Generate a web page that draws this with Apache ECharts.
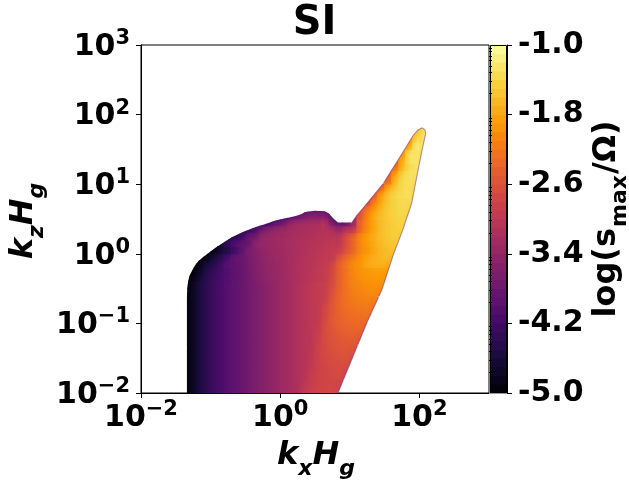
<!DOCTYPE html>
<html>
<head>
<meta charset="utf-8">
<script src="https://cdn.jsdelivr.net/npm/echarts@6/dist/echarts.min.js"></script>
<style>
  html, body { margin: 0; padding: 0; background: #fff; }
  #chart { width: 629px; height: 483px; }
</style>
</head>
<body>
<div id="chart"></div>
<script>
const _ = null;
const gap = n => Array(n).fill(null);

// cell edges in log10(k_x H_g) and log10(k_z H_g)
const logKxEdges = [-1.4,-1.3,-1.2,-1.1,-1.0,-0.9,-0.8,-0.7,-0.6,-0.5,-0.4,-0.3,-0.2,-0.1,0.0,
  0.1,0.2,0.3,0.4,0.5,0.6,0.7,0.8,0.9,1.0,1.1,1.2,1.3,1.4,1.5,1.6,1.7,1.8,1.9,2.0,2.1];
const logKzEdges = [-2.0,-1.9,-1.8,-1.7,-1.6,-1.5,-1.4,-1.3,-1.2,-1.1,-1.0,-0.9,-0.8,-0.7,-0.6,
  -0.5,-0.4,-0.3,-0.2,-0.1,0.0,0.1,0.2,0.3,0.4,0.5,0.6,0.7,0.8,0.9,1.0,1.1,1.2,1.3,1.4,1.5,1.6,1.7,1.8,1.9];

// log(s_max / Omega), one row per k_z band (bottom row first), one entry per k_x band
const logGrowthRows = [
  [-4.97,-4.78,-4.55,-4.38,-4.24,-4.12,-4.0,-3.92,-3.83,-3.73,-3.63,-3.54,-3.45,-3.37,-3.29,-3.21,-3.12,-2.96,-2.86,-2.80,-2.76,-2.75,-2.80],
  [-4.97,-4.78,-4.55,-4.38,-4.24,-4.12,-4.0,-3.92,-3.83,-3.73,-3.63,-3.54,-3.45,-3.37,-3.29,-3.21,-3.13,-3.01,-2.89,-2.81,-2.77,-2.75,-2.77],
  [-4.97,-4.78,-4.55,-4.38,-4.24,-4.12,-4.0,-3.92,-3.83,-3.73,-3.63,-3.54,-3.45,-3.37,-3.29,-3.21,-3.13,-3.05,-2.91,-2.81,-2.76,-2.73,-2.72,-2.80],
  [-4.97,-4.78,-4.55,-4.38,-4.24,-4.12,-4.0,-3.92,-3.83,-3.73,-3.63,-3.54,-3.45,-3.37,-3.29,-3.21,-3.13,-3.06,-2.94,-2.83,-2.76,-2.72,-2.70,-2.73],
  [-4.97,-4.78,-4.55,-4.38,-4.24,-4.12,-4.0,-3.92,-3.83,-3.73,-3.63,-3.54,-3.45,-3.37,-3.29,-3.21,-3.13,-3.06,-2.96,-2.82,-2.74,-2.69,-2.67,-2.66,-2.74],
  [-4.97,-4.78,-4.55,-4.38,-4.24,-4.12,-4.0,-3.92,-3.83,-3.73,-3.63,-3.54,-3.45,-3.37,-3.29,-3.21,-3.13,-3.06,-2.98,-2.82,-2.72,-2.66,-2.62,-2.61,-2.65],
  [-4.97,-4.78,-4.55,-4.38,-4.24,-4.12,-4.0,-3.92,-3.83,-3.73,-3.63,-3.54,-3.45,-3.37,-3.29,-3.21,-3.13,-3.06,-2.99,-2.83,-2.71,-2.63,-2.58,-2.56,-2.59],
  [-4.97,-4.78,-4.55,-4.38,-4.24,-4.12,-4.0,-3.92,-3.83,-3.73,-3.63,-3.54,-3.45,-3.37,-3.29,-3.21,-3.13,-3.06,-2.99,-2.84,-2.70,-2.60,-2.55,-2.52,-2.51,-2.59],
  [-4.97,-4.78,-4.55,-4.38,-4.24,-4.12,-4.0,-3.92,-3.83,-3.73,-3.63,-3.54,-3.45,-3.37,-3.29,-3.21,-3.13,-3.06,-2.99,-2.86,-2.69,-2.58,-2.51,-2.47,-2.45,-2.48],
  [-4.97,-4.78,-4.55,-4.38,-4.24,-4.12,-4.0,-3.92,-3.83,-3.73,-3.63,-3.54,-3.45,-3.37,-3.29,-3.21,-3.13,-3.06,-2.99,-2.89,-2.69,-2.56,-2.47,-2.41,-2.39,-2.38,-2.46],
  [-4.97,-4.78,-4.55,-4.38,-4.24,-4.12,-4.0,-3.92,-3.83,-3.73,-3.63,-3.54,-3.45,-3.37,-3.29,-3.21,-3.13,-3.06,-2.99,-2.92,-2.70,-2.54,-2.43,-2.36,-2.33,-2.31,-2.34],
  [-4.97,-4.78,-4.55,-4.38,-4.24,-4.12,-4.0,-3.92,-3.83,-3.73,-3.63,-3.54,-3.45,-3.37,-3.29,-3.21,-3.13,-3.06,-2.99,-2.92,-2.74,-2.55,-2.41,-2.33,-2.28,-2.26,-2.25,-2.33],
  [-4.97,-4.78,-4.55,-4.38,-4.24,-4.12,-4.0,-3.92,-3.83,-3.73,-3.63,-3.54,-3.45,-3.37,-3.29,-3.21,-3.13,-3.06,-2.99,-2.92,-2.76,-2.55,-2.39,-2.29,-2.23,-2.19,-2.18,-2.22],
  [-4.97,-4.78,-4.55,-4.38,-4.24,-4.12,-4.0,-3.92,-3.83,-3.73,-3.63,-3.54,-3.45,-3.37,-3.29,-3.21,-3.13,-3.06,-2.99,-2.92,-2.83,-2.58,-2.39,-2.27,-2.18,-2.14,-2.12,-2.13],
  [-4.97,-4.78,-4.55,-4.38,-4.24,-4.12,-4.0,-3.92,-3.83,-3.73,-3.63,-3.54,-3.45,-3.37,-3.29,-3.21,-3.13,-3.06,-2.99,-2.92,-2.85,-2.62,-2.41,-2.25,-2.15,-2.09,-2.05,-2.04,-2.08],
  [-4.97,-4.78,-4.55,-4.38,-4.24,-4.12,-4.0,-3.92,-3.83,-3.73,-3.63,-3.54,-3.45,-3.37,-3.29,-3.21,-3.13,-3.06,-2.99,-2.92,-2.85,-2.67,-2.43,-2.25,-2.12,-2.05,-2.0,-1.98,-2.0],
  [-4.98,-4.86,-4.62,-4.42,-4.27,-4.14,-4.02,-3.93,-3.83,-3.73,-3.6,-3.51,-3.42,-3.35,-3.28,-3.21,-3.15,-3.08,-3.02,-2.96,-2.90,-2.70,-2.43,-2.23,-2.10,-2.01,-1.95,-1.93,-1.92,-2.0],
  [-4.99,-4.95,-4.74,-4.5,-4.31,-4.16,-4.03,-3.92,-3.83,-3.71,-3.59,-3.49,-3.41,-3.34,-3.28,-3.21,-3.14,-3.08,-3.02,-2.96,-2.90,-2.73,-2.44,-2.23,-2.07,-1.97,-1.91,-1.87,-1.86,-1.90],
  [_,-4.98,-4.83,-4.62,-4.45,-4.22,-4.0,-3.92,-3.83,-3.70,-3.58,-3.47,-3.40,-3.34,-3.27,-3.21,-3.14,-3.09,-3.03,-2.98,-2.92,-2.77,-2.46,-2.23,-2.05,-1.94,-1.80,-1.74,-1.72,-1.76],
  [_,_,-4.95,-4.85,-4.62,-4.40,-4.15,-3.92,-3.83,-3.69,-3.56,-3.44,-3.38,-3.32,-3.27,-3.21,-3.15,-3.10,-3.05,-3.0,-2.95,-2.9,-2.62,-2.37,-2.18,-1.98,-1.84,-1.74,-1.68,-1.64,-1.70],
  [_,_,_,-4.95,-4.85,-4.63,-4.42,-4.16,-3.93,-3.67,-3.54,-3.42,-3.36,-3.31,-3.26,-3.21,-3.16,-3.11,-3.07,-3.02,-2.98,-2.94,-2.85,-2.6,-2.36,-2.08,-1.92,-1.78,-1.67,-1.60,-1.58],
  [_,_,_,_,-4.95,-4.6,-4.35,-4.1,-3.95,-3.8,-3.52,-3.4,-3.34,-3.29,-3.25,-3.21,-3.16,-3.12,-3.08,-3.05,-3.01,-2.97,-2.95,-2.66,-2.38,-2.08,-1.9,-1.76,-1.64,-1.56,-1.52],
  [...gap(6),-4.5,-4.4,-4.2,-3.9,-3.73,-3.45,-3.38,-3.32,-3.28,-3.23,-3.18,-3.15,-3.12,-3.08,-3.05,-3.05,-3.02,-2.74,-2.45,-2.1,-1.9,-1.74,-1.61,-1.53,-1.48,-1.50],
  [...gap(8),-4.4,-4.25,-4.05,-3.75,-3.58,-3.45,-3.37,-3.28,-3.22,-3.19,-3.16,-3.13,-3.11,-3.22,-3.35,-3.12,-2.93,-2.35,-2.02,-1.8,-1.62,-1.52,-1.46,-1.45],
  [...gap(10),-4.35,-4.25,-4.15,-3.91,-3.76,-3.49,-3.36,-3.3,-3.25,-3.24,-3.22,-3.67,-3.85,-3.8,-3.3,-2.4,-2.05,-1.8,-1.62,-1.52,-1.45,-1.42,-1.48],
  [...gap(14),-4.2,-4.05,-3.85,-3.7,-3.6,-3.6,-3.65,-4.0,_,_,-3.2,-2.55,-2.12,-1.8,-1.62,-1.5,-1.43,-1.4,-1.45],
  [...gap(16),-4.0,-3.95,-3.95,-3.95,-4.0,_,_,_,_,-2.65,-2.3,-1.95,-1.68,-1.52,-1.43,-1.38,-1.4],
  [...gap(26),-2.8,-2.2,-1.8,-1.55,-1.43,-1.37,-1.37],
  [...gap(27),-2.5,-1.95,-1.6,-1.42,-1.35,-1.33,-1.45],
  [...gap(28),-2.4,-1.85,-1.55,-1.38,-1.33,-1.4],
  [...gap(29),-2.3,-1.7,-1.4,-1.32,-1.33],
  [...gap(29),-2.5,-1.9,-1.5,-1.32,-1.3],
  [...gap(30),-2.3,-1.7,-1.38,-1.28],
  [...gap(30),-2.5,-1.8,-1.35,-1.26,-1.35],
  [...gap(31),-2.0,-1.42,-1.27,-1.32],
  [...gap(32),-1.8,-1.28,-1.28],
  [...gap(32),-2.0,-1.45,-1.3],
  [...gap(33),-1.6,-1.33],
  [...gap(34),-1.4]
];

// edge of the unstable region, log10(k_x H_g) / log10(k_z H_g)
const domainLogKx = [-1.34,-1.34,-1.335,-1.32,-1.30,-1.26,-1.22,-1.17,-1.11,-1.03,-0.94,-0.82,-0.69,-0.52,-0.36,-0.20,-0.07,0.08,0.21,0.30,0.36,0.50,0.64,0.70,0.77,0.83,1.03,1.10,1.25,1.48,1.72,1.91,1.98,2.04,2.08,2.09,2.03,1.98,1.89,1.76,1.63,1.46,1.25,0.83];
const domainLogKz = [-2.0,-0.62,-0.48,-0.38,-0.31,-0.23,-0.16,-0.10,-0.05,0.01,0.08,0.16,0.24,0.32,0.38,0.43,0.48,0.51,0.54,0.57,0.60,0.62,0.61,0.58,0.50,0.45,0.45,0.55,0.73,1.01,1.39,1.70,1.78,1.81,1.78,1.73,1.45,1.20,0.73,0.34,0.0,-0.52,-0.98,-2.0];

const logKxTicks = [-2, 0, 2];
const logKzTicks = [-2, -1, 0, 1, 2, 3];
const colorbarTicks = [-5.0, -4.2, -3.4, -2.6, -1.8, -1.0];
const colorMin = -5, colorMax = -1, colorbarLevels = 40;

// inferno colormap
const inferno = [
  [0.000, [0, 0, 4]], [0.111, [27, 12, 65]], [0.222, [74, 12, 107]], [0.250, [87, 16, 110]],
  [0.333, [120, 28, 109]], [0.444, [165, 44, 96]], [0.500, [188, 55, 84]], [0.556, [207, 68, 70]],
  [0.667, [237, 105, 37]], [0.750, [249, 142, 9]], [0.778, [251, 155, 6]], [0.889, [247, 209, 61]],
  [1.000, [252, 255, 164]]
];
function infernoAt(t) {
  t = Math.max(0, Math.min(1, t));
  for (let k = 1; k < inferno.length; k++) {
    if (t <= inferno[k][0]) {
      const [t0, c0] = inferno[k - 1], [t1, c1] = inferno[k];
      const f = (t - t0) / (t1 - t0);
      return 'rgb(' + c0.map((c, m) => Math.round(c + (c1[m] - c) * f)).join(',') + ')';
    }
  }
  return 'rgb(252,255,164)';
}
const valueColor = v => infernoAt((v - colorMin) / (colorMax - colorMin));

// each cell: edges, value and the local slope used to shade it smoothly
const cellAt = (j, i) => (logGrowthRows[j] && logGrowthRows[j][i] != null ? logGrowthRows[j][i] : null);
function slope(prev, mid, next) {
  let s = 0;
  if (prev != null && next != null) s = (next - prev) / 2;
  else if (next != null) s = next - mid;
  else if (prev != null) s = mid - prev;
  return Math.max(-0.4, Math.min(0.4, s));
}
const fieldCells = [];
logGrowthRows.forEach((row, j) => row.forEach((v, i) => {
  if (v === null) return;
  const sx = slope(cellAt(j, i - 1), v, cellAt(j, i + 1));
  const sy = slope(cellAt(j - 1, i), v, cellAt(j + 1, i));
  fieldCells.push([logKxEdges[i], logKxEdges[i + 1], logKzEdges[j], logKzEdges[j + 1], v, sx, sy]);
}));
const ridgeEdge = domainLogKx.slice(26).map((x, k) => [x, domainLogKz[26 + k]]);
const colorbarBands = [];
for (let k = 0; k < colorbarLevels; k++) {
  const lo = colorMin + (colorMax - colorMin) * k / colorbarLevels;
  colorbarBands.push([lo, lo + (colorMax - colorMin) / colorbarLevels]);
}
const minorKz = [];
for (let n = -2; n < 3; n++) for (let m = 2; m <= 9; m++) minorKz.push(n + Math.log10(m));

const F = 'DejaVu Sans';
const sup = v => (v < 0 ? '\u2212' + (-v) : String(v));
const powLabel = v => '{b|10}{s|' + sup(v) + '}';
const powRich = {
  b: { fontFamily: F, fontWeight: 'bold', fontSize: 30, color: '#000', lineHeight: 34, verticalAlign: 'bottom' },
  s: { fontFamily: F, fontWeight: 'bold', fontSize: 21, color: '#000', lineHeight: 22, verticalAlign: 'top' }
};
const nameRich = {
  i: { fontFamily: F, fontWeight: 'bold', fontStyle: 'italic', fontSize: 32, color: '#000', lineHeight: 40, verticalAlign: 'top' },
  s: { fontFamily: F, fontWeight: 'bold', fontStyle: 'italic', fontSize: 22, color: '#000', lineHeight: 23, verticalAlign: 'bottom' }
};
const cbarRich = {
  n: { fontFamily: F, fontWeight: 'bold', fontSize: 32, color: '#000', lineHeight: 40, verticalAlign: 'top' },
  m: { fontFamily: F, fontWeight: 'bold', fontSize: 22, color: '#000', lineHeight: 23, verticalAlign: 'bottom', padding: [0, 1, 0, 1] }
};
const black = { color: '#000', width: 1 };

const chart = echarts.init(document.getElementById('chart'), null, { renderer: 'canvas' });
chart.setOption({
  animation: false,
  backgroundColor: '#fff',
  title: {
    text: 'SI', left: 'center', top: -1,
    textStyle: { fontFamily: F, fontWeight: 'bold', fontSize: 40, color: '#000' }
  },
  grid: [
    { left: 141, top: 45, width: 348, height: 348, show: true, borderColor: '#000', borderWidth: 1, backgroundColor: 'transparent' },
    { left: 490, top: 45, width: 17, height: 348 }
  ],
  xAxis: [
    {
      type: 'value', gridIndex: 0, min: -2, max: 3, z: 5,
      axisLine: { show: true, onZero: false, lineStyle: black },
      axisTick: { show: true, customValues: logKxTicks, length: 5, lineStyle: black },
      axisLabel: { customValues: logKxTicks, margin: 6, formatter: powLabel, rich: powRich },
      splitLine: { show: false }
    },
    { type: 'value', gridIndex: 1, min: 0, max: 1, show: false }
  ],
  yAxis: [
    {
      type: 'value', gridIndex: 0, min: -2, max: 3, z: 5,
      axisLine: { show: true, onZero: false, lineStyle: black },
      axisTick: { show: true, customValues: logKzTicks, length: 5, lineStyle: black },
      axisLabel: { customValues: logKzTicks, margin: 11, formatter: powLabel, rich: powRich },
      splitLine: { show: false }
    },
    {
      type: 'value', gridIndex: 0, min: -2, max: 3, z: 5,
      axisLine: { show: false, onZero: false },
      axisTick: { show: true, customValues: minorKz, length: 3, lineStyle: black },
      axisLabel: { show: false },
      splitLine: { show: false }
    },
    {
      type: 'value', gridIndex: 1, position: 'right', min: colorMin, max: colorMax, z: 5,
      axisLine: { show: true, onZero: false, lineStyle: black },
      axisTick: { show: true, customValues: colorbarTicks, length: 5, lineStyle: black },
      axisLabel: {
        customValues: colorbarTicks, margin: 11, formatter: v => v.toFixed(1),
        fontFamily: F, fontWeight: 'bold', fontSize: 30, color: '#000'
      },
      splitLine: { show: false }
    }
  ],
  series: [
    {
      type: 'custom', xAxisIndex: 0, yAxisIndex: 0, clip: true, silent: true,
      encode: { x: [0, 1], y: [2, 3] },
      data: fieldCells,
      renderItem(params, api) {
        const ctx = params.context;
        if (!ctx.domain) ctx.domain = domainLogKx.map((x, k) => api.coord([x, domainLogKz[k]]));
        const a = api.coord([api.value(0), api.value(2)]);
        const b = api.coord([api.value(1), api.value(3)]);
        const v = api.value(4), sx = api.value(5), sy = api.value(6);
        const gx = sx, gy = -sy, g2 = gx * gx + gy * gy;
        let fill;
        if (g2 < 1e-8) {
          fill = valueColor(v);
        } else {
          const r = (Math.abs(sx) + Math.abs(sy)) / 2, k = r / g2;
          fill = {
            type: 'linear', global: false,
            x: 0.5 - k * gx, y: 0.5 - k * gy, x2: 0.5 + k * gx, y2: 0.5 + k * gy,
            colorStops: [0, 0.25, 0.5, 0.75, 1].map(f => ({ offset: f, color: valueColor(v - r + 2 * r * f) }))
          };
        }
        return {
          type: 'rect',
          shape: { x: a[0] - 0.4, y: b[1] - 0.4, width: b[0] - a[0] + 0.8, height: a[1] - b[1] + 0.8 },
          style: { fill },
          clipPath: { type: 'polygon', shape: { points: ctx.domain } }
        };
      }
    },
    {
      type: 'line', xAxisIndex: 0, yAxisIndex: 0, data: ridgeEdge, showSymbol: false, silent: true,
      lineStyle: { color: 'rgba(120,40,120,0.5)', width: 1.1 }, z: 3
    },
    {
      type: 'custom', xAxisIndex: 1, yAxisIndex: 2, silent: true,
      data: colorbarBands,
      renderItem(params, api) {
        const a = api.coord([0, api.value(0)]);
        const b = api.coord([1, api.value(1)]);
        return {
          type: 'rect',
          shape: { x: a[0], y: b[1] - 0.4, width: b[0] - a[0], height: a[1] - b[1] + 0.8 },
          style: { fill: valueColor((api.value(0) + api.value(1)) / 2) }
        };
      }
    },
    {
      type: 'custom', xAxisIndex: 1, yAxisIndex: 2, silent: true, z: 4,
      data: [[0]],
      renderItem(params, api) {
        const a = api.coord([0, colorMin]);
        const b = api.coord([1, colorMax]);
        return {
          type: 'rect',
          shape: { x: Math.round(a[0]) + 0.5, y: Math.round(b[1]) + 0.5, width: Math.round(b[0] - a[0]) - 1, height: Math.round(a[1] - b[1]) - 1 },
          style: { fill: 'none', stroke: '#000', lineWidth: 1 }
        };
      }
    }
  ],
  graphic: [
    {
      type: 'text', x: 316, y: 460, silent: true,
      style: { text: '{i|k}{s|x}{i|H}{s|g}', rich: nameRich, align: 'center', verticalAlign: 'middle' }
    },
    {
      type: 'text', x: 28, y: 221, rotation: Math.PI / 2, silent: true,
      style: { text: '{i|k}{s|z}{i|H}{s|g}', rich: nameRich, align: 'center', verticalAlign: 'middle' }
    },
    {
      type: 'text', x: 611, y: 219, rotation: Math.PI / 2, silent: true,
      style: { text: '{n|log(s}{m|max}{n|/Ω)}', rich: cbarRich, align: 'center', verticalAlign: 'middle' }
    }
  ]
});
</script>
</body>
</html>
